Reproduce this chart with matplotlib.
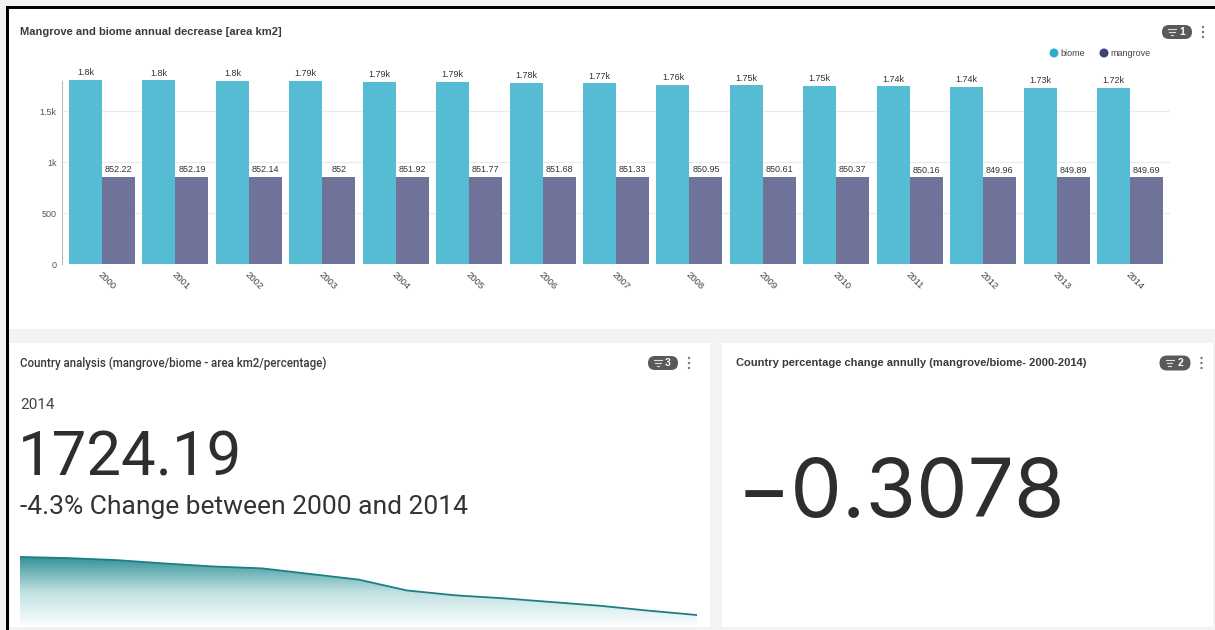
import numpy as np
import matplotlib
matplotlib.use("Agg")
import matplotlib.pyplot as plt
from matplotlib.patches import Rectangle, FancyBboxPatch, Ellipse
from matplotlib.transforms import IdentityTransform, ScaledTranslation
from matplotlib.colors import LinearSegmentedColormap

# annual area (km2)
years = ['2000', '2001', '2002', '2003', '2004', '2005', '2006', '2007',
         '2008', '2009', '2010', '2011', '2012', '2013', '2014']
biome = [1801.7, 1800.2, 1797.5, 1793.0, 1789.0, 1786.5, 1779.0, 1771.5,
         1757.0, 1750.5, 1746.5, 1741.5, 1736.5, 1730.0, 1724.19]
mangrove = [852.22, 852.19, 852.14, 852.0, 851.92, 851.77, 851.68, 851.33,
            850.95, 850.61, 850.37, 850.16, 849.96, 849.89, 849.69]
annual_change = -0.3078
y_ticks = [0, 500, 1000, 1500]
y_tick_labels = ['0', '500', '1k', '1.5k']

W, H = 1215, 630
C_BIOME = '#55bcd4'
C_MANG = '#6f7399'
TXT = '#333333'

fig = plt.figure(figsize=(W / 100, H / 100), dpi=100)
fig.patch.set_facecolor('#f3f3f3')


def fx(x):
    return x / W


def fy(y):
    return 1 - y / H


def rect(x0, y0, x1, y1, color):
    fig.add_artist(Rectangle((x0, H - y1), x1 - x0, y1 - y0, fc=color, ec='none',
                             transform=IdentityTransform(), zorder=0))


def badge(cx, cy, w, h, num):
    fig.add_artist(FancyBboxPatch((cx - w / 2, H - cy - h / 2), w, h,
                                  boxstyle='round,pad=0,rounding_size=%g' % (h / 2),
                                  fc='#595959', ec='none', transform=IdentityTransform()))
    # little filter icon
    ix = cx - w / 2 + 10
    for k, half in enumerate([4, 2.7, 1.4]):
        yy = H - cy + 3 - k * 3
        fig.add_artist(plt.Line2D([ix - half, ix + half], [yy, yy], color='#dddddd',
                                  lw=0.8, transform=IdentityTransform()))
    fig.text(fx(cx + 5), fy(cy), num, color='white', fontsize=7.5, fontweight='bold',
             ha='center', va='center', family='Liberation Sans')
    # kebab menu
    kx = cx + w / 2 + 11
    for d in (-5, 0, 5):
        fig.add_artist(Ellipse((kx, H - cy + d), 2.4, 2.4, fc='#777777', ec='none',
                               transform=IdentityTransform()))


# panels and frame
rect(9, 9, 1215, 329, 'white')
rect(10, 343, 710, 627, 'white')
rect(722, 343, 1213, 627, 'white')
rect(6, 6, 1215, 9, 'black')
rect(6, 6, 9, 630, 'black')

# ---- top: grouped bars ----
fig.text(fx(20), fy(32), 'Mangrove and biome annual decrease [area km2]',
         fontsize=8, fontweight='bold', color='#3a3a3a', va='center',
         family='Liberation Sans')
badge(1177, 32, 30, 14, '1')

for cx, col, lab in [(1054, '#2eaccb', 'biome'), (1104, '#3c4377', 'mangrove')]:
    fig.add_artist(Ellipse((cx, H - 53), 9, 9, fc=col, ec='none',
                           transform=IdentityTransform()))
    fig.text(fx(cx + 6), fy(53), lab, fontsize=6.5, color='#444444', va='center',
             family='Liberation Sans')

ax = fig.add_axes([fx(62), fy(264), fx(1170 - 62), (264 - 75) / H])
x = np.arange(len(years))
bw = 0.45
b1 = ax.bar(x - bw / 2, biome, bw, color=C_BIOME, zorder=2)
b2 = ax.bar(x + bw / 2, mangrove, bw, color=C_MANG, zorder=2)
ax.bar_label(b1, labels=['%sk' % format(v / 1000, '.3g') for v in biome], padding=2,
             fontsize=6.5, color=TXT, family='Liberation Sans')
ax.bar_label(b2, labels=[format(v, 'g') for v in mangrove], padding=2,
             fontsize=6.5, color=TXT, family='Liberation Sans')
ax.set_xlim(-0.545, 14.545)
ax.set_ylim(0, 1853)
ax.set_yticks(y_ticks)
ax.set_yticklabels(y_tick_labels, fontsize=6.5, color='#555555', family='Liberation Sans')
ax.set_xticks(x)
ax.set_xticklabels(years, rotation=-45, ha='left', va='top', fontsize=6.8,
                   color='#444444', family='Liberation Sans')
ax.tick_params(length=0, pad=4)
shift = ScaledTranslation(-4 / 72, 0, fig.dpi_scale_trans)
for lbl in ax.get_xticklabels():
    lbl.set_transform(lbl.get_transform() + shift)
ax.grid(axis='y', color='#ebebeb', lw=0.8, zorder=0)
for s in ('top', 'right', 'bottom'):
    ax.spines[s].set_visible(False)
ax.spines['left'].set_color('#bbbbbb')
ax.spines['left'].set_linewidth(0.8)
ax.spines['left'].set_bounds(0, 1790)
ax.patch.set_alpha(0)

# ---- bottom left: KPI with sparkline ----
fig.text(fx(20), fy(363), 'Country analysis (mangrove/biome - area km2/percentage)',
         fontsize=8.3, fontweight='medium', color='#3a3a3a', va='center', family='Roboto')
badge(663, 363, 30, 14, '3')
fig.text(fx(20), fy(405), years[-1], fontsize=11, color='#444444', va='center',
         family='Roboto')
fig.text(fx(18), fy(475), '%.2f' % biome[-1], fontsize=44.5, color='#2e2e2e',
         va='baseline', family='Roboto')
pct = (biome[-1] / biome[0] - 1) * 100
fig.text(fx(20), fy(514), '%.1f%% Change between %s and %s' % (pct, years[0], years[-1]),
         fontsize=19, color='#333333', va='baseline', family='Roboto')

sp = fig.add_axes([fx(20), fy(627), fx(697 - 20), (627 - 550) / H])
sp.axis('off')
sx = np.arange(len(biome))
ymin, ymax = 1708.2, 1811.0
sp.set_xlim(0, len(biome) - 1)
sp.set_ylim(ymin, ymax)
poly = sp.fill_between(sx, biome, ymin, color='none', lw=0)
grad = LinearSegmentedColormap.from_list('g', ['#ffffff', '#bfe0e1', '#2f9095'])
img = sp.imshow(np.linspace(0, 1, 256).reshape(-1, 1), cmap=grad, aspect='auto',
                origin='lower', extent=[0, len(biome) - 1, ymin, max(biome)], zorder=1)
img.set_clip_path(poly.get_paths()[0], transform=sp.transData)
sp.plot(sx, biome, color='#1c7f86', lw=1.3, zorder=2)

# ---- bottom right: KPI ----
fig.text(fx(736), fy(363), 'Country percentage change annully (mangrove/biome- 2000-2014)',
         fontsize=8, fontweight='bold', color='#3a3a3a', va='center',
         family='Liberation Sans')
badge(1175, 363, 31, 15, '2')
fig.text(fx(737), fy(517), ('%.4f' % annual_change).replace('-', '\u2212'), fontsize=59,
         color='#2e2e2e', va='baseline', family='Inter')

fig.savefig('out.png', dpi=100, facecolor=fig.get_facecolor())
